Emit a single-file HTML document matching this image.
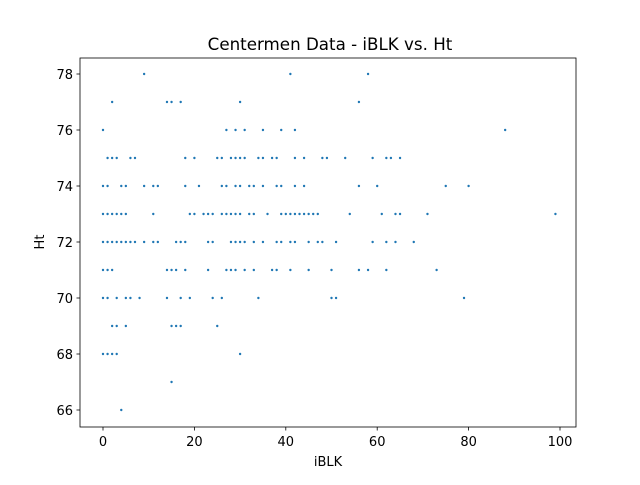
<!DOCTYPE html>
<html><head><meta charset="utf-8"><style>
body{margin:0;background:#fff;font-family:"Liberation Sans","DejaVu Sans",sans-serif}
svg text{font-family:"DejaVu Sans","Liberation Sans",sans-serif;fill:#000}
</style></head><body>
<svg id="chart" width="640" height="480" xmlns="http://www.w3.org/2000/svg">
<rect width="640" height="480" fill="#fff"/>
<text x="330" y="50" font-size="16.7" text-anchor="middle">Centermen Data - iBLK vs. Ht</text>
<g id="marks"></g>
<rect x="80" y="58" width="496" height="369" fill="none" stroke="#000" stroke-width="0.8"/>
<g id="xticks"></g>
<g id="yticks"></g>
<text x="328" y="466" font-size="13" text-anchor="middle">iBLK</text>
<text transform="translate(44,242) rotate(-90)" font-size="13" text-anchor="middle">Ht</text>
</svg>
<script>
const heights = [78,77,76,75,74,73,72,71,70,69,68,67,66];
const iblkByHeight = [
 [9,41,58],
 [2,14,15,17,30,56],
 [0,27,29,31,35,39,42,88],
 [1,2,3,6,7,18,20,25,26,28,29,30,31,34,35,37,38,42,44,48,49,53,59,62,63,65],
 [0,1,4,5,9,11,12,18,21,26,27,29,30,32,33,35,38,39,42,44,56,60,75,80],
 [0,1,2,3,4,5,11,19,20,22,23,24,26,27,28,29,30,32,33,36,39,40,41,42,43,44,45,46,47,54,61,64,65,71,99],
 [0,1,2,3,4,5,6,7,9,11,12,16,17,18,23,24,28,29,30,31,33,35,38,39,41,42,45,47,48,51,59,62,64,68],
 [0,1,2,14,15,16,18,23,27,28,29,31,33,37,38,41,45,50,56,58,62,73],
 [0,1,3,5,6,8,14,17,19,24,26,34,50,51,79],
 [2,3,5,15,16,17,25],
 [0,1,2,3,30],
 [15],
 [4]
];
const xTickLabels = [0,20,40,60,80,100];
const yTickLabels = [66,68,70,72,74,76,78];
const NS="http://www.w3.org/2000/svg";
function xs(v){return 103+(v-0)*(560-103)/100;}
function ys(v){return 410-(v-66)*(410-74)/12;}
const marks=document.getElementById('marks');
heights.forEach((h,i)=>{
  iblkByHeight[i].forEach(v=>{
    const c=document.createElementNS(NS,'circle');
    c.setAttribute('cx',xs(v));c.setAttribute('cy',ys(h));c.setAttribute('r',1.2);c.setAttribute('fill','#1f77b4');
    
    
    marks.appendChild(c);
  });
});
const xt=document.getElementById('xticks');
xTickLabels.forEach(v=>{
  const l=document.createElementNS(NS,'line');
  l.setAttribute('x1',xs(v));l.setAttribute('x2',xs(v));l.setAttribute('y1',427);l.setAttribute('y2',430.5);l.setAttribute('stroke','#000');l.setAttribute('stroke-width','0.8');
  
  
  xt.appendChild(l);
  const t=document.createElementNS(NS,'text');
  t.setAttribute('x',xs(v));t.setAttribute('y',446);t.setAttribute('font-size','13');t.setAttribute('text-anchor','middle');t.textContent=v;
  
  
  xt.appendChild(t);
});
const yt=document.getElementById('yticks');
yTickLabels.forEach(v=>{
  const l=document.createElementNS(NS,'line');
  l.setAttribute('x1',76.5);l.setAttribute('x2',80);l.setAttribute('y1',ys(v));l.setAttribute('y2',ys(v));l.setAttribute('stroke','#000');l.setAttribute('stroke-width','0.8');
  
  
  yt.appendChild(l);
  const t=document.createElementNS(NS,'text');
  t.setAttribute('x',73);t.setAttribute('y',ys(v)+5);t.setAttribute('font-size','13');t.setAttribute('text-anchor','end');t.textContent=v;
  
  
  yt.appendChild(t);
});
</script>
</body></html>
